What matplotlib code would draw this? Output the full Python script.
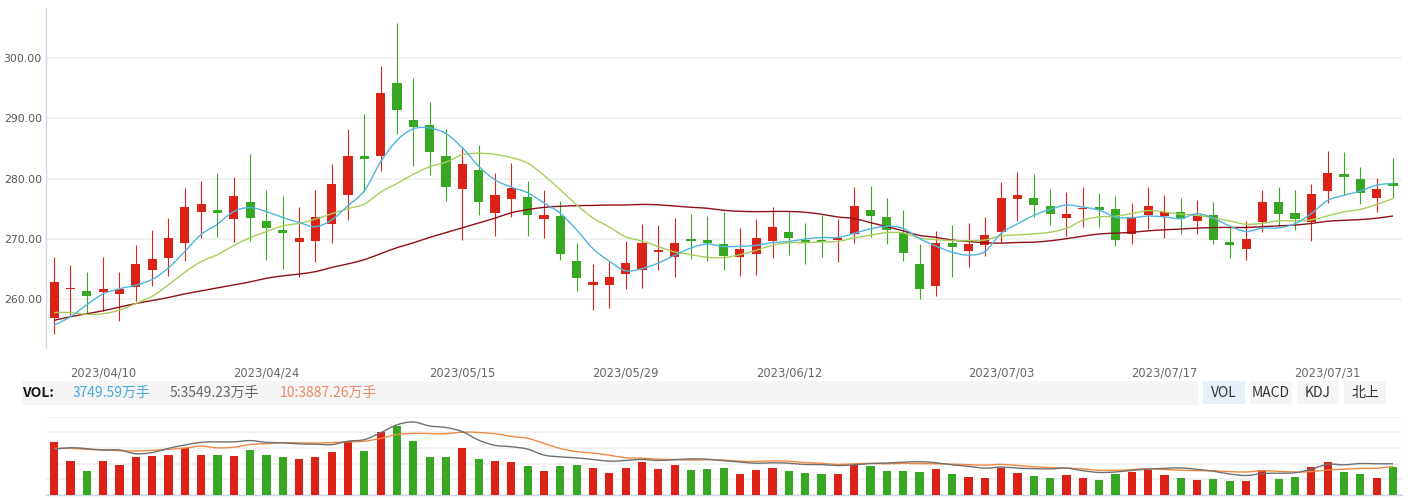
import numpy as np
import pandas as pd
import matplotlib
matplotlib.use("Agg")
import matplotlib.pyplot as plt
from matplotlib.patches import Rectangle, PathPatch
from matplotlib.path import Path

# ---------------- data ----------------
holidays = ["2023-04-05", "2023-05-01", "2023-05-02", "2023-05-03", "2023-06-22", "2023-06-23"]
dates = pd.bdate_range("2023-04-04", "2023-08-04", freq="C", holidays=holidays)
label_dates = ["2023/04/10", "2023/04/24", "2023/05/15", "2023/05/29",
               "2023/06/12", "2023/07/03", "2023/07/17", "2023/07/31"]

opens = [256.83, 261.54, 261.26, 261.15, 260.82, 261.99, 264.76, 266.81, 269.26, 274.47,
         274.69, 273.31, 276.08, 272.92, 271.42, 269.48, 269.64, 272.48, 277.30, 283.74,
         283.80, 295.89, 289.73, 288.90, 283.74, 278.30, 281.41, 274.31, 276.64, 276.91,
         273.31, 273.75, 266.26, 262.32, 262.32, 264.15, 264.82, 267.81, 266.98, 269.92,
         269.76, 269.09, 266.98, 267.48, 269.64, 271.09, 269.76, 269.76, 269.76, 270.81,
         274.75, 273.58, 270.98, 265.76, 262.15, 269.26, 267.98, 268.98, 271.14, 276.64,
         276.75, 275.42, 273.47, 274.97, 275.25, 274.92, 270.81, 273.92, 273.81, 274.42,
         272.97, 273.92, 269.37, 268.31, 272.81, 276.08, 274.25, 272.81, 277.97, 280.74,
         279.91, 276.80, 279.25]
closes = [262.76, 261.82, 260.49, 261.60, 261.60, 265.76, 266.59, 270.09, 275.25, 275.75,
          274.31, 277.08, 273.47, 271.81, 270.98, 270.09, 273.58, 279.08, 283.74, 283.30,
          294.23, 291.45, 288.62, 284.46, 278.63, 282.41, 276.14, 277.25, 278.41, 273.97,
          273.92, 267.48, 263.48, 262.76, 263.60, 265.93, 269.26, 268.09, 269.26, 269.64,
          269.26, 267.15, 268.26, 270.09, 271.92, 270.14, 269.31, 269.48, 270.09, 275.42,
          273.81, 271.48, 267.65, 261.65, 269.26, 268.65, 269.09, 270.59, 276.75, 277.25,
          275.64, 274.14, 274.08, 275.14, 274.75, 269.81, 273.64, 275.42, 274.47, 273.31,
          273.92, 269.81, 268.98, 269.92, 276.08, 274.14, 273.31, 277.41, 280.91, 280.30,
          277.64, 278.25, 278.80]
highs = [266.93, 265.59, 264.37, 266.93, 264.37, 268.92, 271.42, 273.42, 278.41, 279.58,
         280.91, 280.24, 284.07, 278.08, 277.08, 275.25, 278.08, 282.41, 288.24, 290.73,
         298.72, 305.88, 296.73, 292.73, 288.24, 285.29, 285.57, 280.91, 282.58, 279.58,
         278.08, 276.25, 269.26, 265.76, 266.32, 269.59, 272.42, 272.25, 273.42, 274.08,
         273.75, 274.42, 271.75, 273.25, 275.25, 274.58, 272.59, 273.92, 273.25, 278.58,
         278.75, 276.75, 274.75, 269.15, 271.25, 272.25, 272.59, 273.58, 279.41, 281.08,
         280.74, 278.25, 277.75, 278.58, 277.58, 277.08, 275.92, 278.58, 277.25, 276.75,
         276.42, 276.08, 272.14, 272.92, 278.08, 278.58, 278.08, 279.08, 284.57, 284.41,
         281.91, 280.08, 283.41]
lows = [254.16, 257.27, 257.44, 257.94, 256.33, 259.60, 262.15, 263.82, 266.32, 270.14,
        270.31, 269.48, 269.64, 266.48, 264.98, 263.65, 266.15, 269.31, 273.14, 277.80,
        281.30, 287.46, 282.13, 280.63, 276.30, 269.81, 273.97, 270.48, 273.64, 270.48,
        270.14, 266.48, 261.32, 258.16, 258.49, 261.65, 261.82, 264.82, 263.65, 266.65,
        266.32, 264.82, 263.82, 263.98, 266.81, 267.31, 265.82, 266.98, 266.15, 269.31,
        270.31, 269.15, 266.32, 259.99, 260.49, 263.65, 265.32, 267.15, 269.42, 272.97,
        273.64, 272.31, 270.48, 271.98, 271.98, 268.81, 269.15, 271.59, 270.14, 270.81,
        270.81, 269.15, 266.81, 266.48, 271.14, 272.14, 271.48, 269.64, 275.97, 277.25,
        275.75, 274.47, 276.75]

# volume, 万手
volumes = [7141, 4597, 3213, 4597, 4017, 5132, 5266, 5400, 6337, 5400,
           5400, 5266, 6070, 5400, 5132, 4865, 5132, 5802, 7230, 5936,
           8480, 9283, 7275, 5132, 5132, 6337, 4820, 4552, 4418, 3883,
           3213, 3883, 4017, 3615, 2946, 3615, 4418, 3481, 4017, 3347,
           3481, 3615, 2812, 3347, 3615, 3213, 2946, 2812, 2812, 4017,
           3883, 3213, 3213, 3079, 3481, 2812, 2410, 2276, 3615, 2946,
           2544, 2276, 2678, 2276, 2008, 2812, 3079, 3347, 2678, 2276,
           2008, 2142, 1874, 1874, 3347, 2142, 2410, 3749, 4418, 3079,
           2812, 2276, 3750]

# moving-average values before enough history is visible
ma5_head = [255.6, 257.0, 259.0, 260.8]
ma10_head = [257.7, 257.7, 257.4, 257.5, 258.1, 259.2, 260.4, 262.3, 264.4]
ma30_head = [256.4, 257.0, 257.5, 258.0, 258.6, 259.2, 259.7, 260.2, 260.8, 261.3,
             261.8, 262.3, 262.8, 263.4, 263.8, 264.1, 264.5, 265.2, 265.8, 266.5,
             267.5, 268.5, 269.3, 270.2, 271.0, 271.8, 272.6, 273.4, 274.3]
vol_ma5_head = [4777, 4951, 4847, 4707]
vol_ma10_head = [4882, 4882, 4777, 4707, 4638, 4603, 4672, 4777, 4917]

header_vol = "3749.59万手"
header_ma5 = "5:3549.23万手"
header_ma10 = "10:3887.26万手"
buttons = ["VOL", "MACD", "KDJ", "北上"]

# ---------------- helpers ----------------
def moving_avg(vals, n, head):
    s = pd.Series(vals, dtype=float).rolling(n).mean().to_numpy()
    s[:len(head)] = head
    return s

def smooth_line(ax, x, y, **kw):
    x = np.asarray(x, float)
    y = np.asarray(y, float)
    n = len(x)
    verts = [(x[0], y[0])]
    codes = [Path.MOVETO]
    for i in range(n - 1):
        p0 = np.array([x[max(i - 1, 0)], y[max(i - 1, 0)]])
        p1 = np.array([x[i], y[i]])
        p2 = np.array([x[i + 1], y[i + 1]])
        p3 = np.array([x[min(i + 2, n - 1)], y[min(i + 2, n - 1)]])
        c1 = p1 + (p2 - p0) / 6.0
        c2 = p2 - (p3 - p1) / 6.0
        verts += [tuple(c1), tuple(c2), tuple(p2)]
        codes += [Path.CURVE4] * 3
    ax.add_patch(PathPatch(Path(verts, codes), fill=False, **kw))

# ---------------- figure ----------------
W, H = 1414, 500
fig = plt.figure(figsize=(W / 100, H / 100), dpi=100)
fig.patch.set_facecolor("white")

RED = "#da2219"
GREEN = "#38a824"

o = np.array(opens); c = np.array(closes); h = np.array(highs); l = np.array(lows)
x = np.arange(len(dates))
up = c >= o
colors = np.where(up, RED, GREEN)

x0 = 46 / W
wid = (1402 - 46) / W

# price panel
ax = fig.add_axes([x0, 1 - 348 / H, wid, 340 / H])
ax.set_xlim(-0.5, 82.55)
ax.set_ylim(251.80, 308.37)
for s in ["top", "right", "bottom"]:
    ax.spines[s].set_visible(False)
ax.spines["left"].set_color("#c7d7ee")
ax.spines["left"].set_linewidth(0.9)
ax.set_yticks([260, 270, 280, 290, 300])
ax.set_yticklabels([f"{v:.2f}" for v in [260, 270, 280, 290, 300]])
ax.tick_params(axis="y", length=0, pad=3, labelsize=7.8, labelcolor="#555555")
ax.grid(axis="y", color="#f1f1f1", linewidth=1.3)
ax.set_axisbelow(True)

date_str = [d.strftime("%Y/%m/%d") for d in dates]
tick_pos = [date_str.index(d) for d in label_dates]
ax.set_xticks(tick_pos)
ax.set_xticklabels(label_dates)
ax.tick_params(axis="x", length=0, pad=13, labelsize=8.3, labelcolor="#666666")

ax.vlines(x, l, h, colors=colors, linewidth=0.8, zorder=2)
body_bottom = np.minimum(o, c)
body_h = np.maximum(np.abs(c - o), 0.18)
ax.bar(x, body_h, bottom=body_bottom, width=0.56, color=colors, linewidth=0, zorder=3)

ma5 = moving_avg(closes, 5, ma5_head)
ma10 = moving_avg(closes, 10, ma10_head)
ma30 = moving_avg(closes, 30, ma30_head)
smooth_line(ax, x, ma30, edgecolor="#8e1018", linewidth=1.0, zorder=4)
smooth_line(ax, x, ma10, edgecolor="#a6cf5a", linewidth=1.0, zorder=4)
smooth_line(ax, x, ma5, edgecolor="#4db6dc", linewidth=1.0, zorder=4)

# volume panel
axv = fig.add_axes([x0, 1 - 495 / H, wid, (495 - 416.7) / H])
axv.set_xlim(-0.5, 82.55)
vtop = 10488
axv.set_ylim(0, vtop)
for s in ["top", "right", "left"]:
    axv.spines[s].set_visible(False)
axv.spines["bottom"].set_color("#ccd4e6")
axv.spines["bottom"].set_linewidth(1.0)
axv.set_yticks(np.linspace(0, vtop, 6))
axv.set_yticklabels([])
axv.set_xticks([])
axv.tick_params(length=0)
axv.grid(axis="y", color="#f1f1f1", linewidth=1.3)
axv.set_axisbelow(True)
axv.bar(x, volumes, width=0.5, color=colors, linewidth=0, zorder=3)

axl = axv.twinx()
axl.set_ylim(0, vtop / 1.28)
axl.set_xlim(-0.5, 82.55)
axl.axis("off")
vma5 = moving_avg(volumes, 5, vol_ma5_head)
vma10 = moving_avg(volumes, 10, vol_ma10_head)
smooth_line(axl, x, vma10, edgecolor="#ef8a44", linewidth=1.0, zorder=4)
smooth_line(axl, x, vma5, edgecolor="#707070", linewidth=1.0, zorder=4)

# header band
fam = ["Noto Sans CJK SC", "DejaVu Sans"]
fig.add_artist(Rectangle((22 / W, 1 - 405 / H), (1198 - 22) / W, 24 / H,
                         transform=fig.transFigure, facecolor="#f5f5f5", edgecolor="none"))
yc = 1 - 393 / H
fig.text(22 / W, yc, "VOL:", family=fam, fontsize=10, fontweight="bold",
         color="#1a1a1a", va="center", ha="left")
fig.text(72.5 / W, yc, header_vol, family=fam, fontsize=10, color="#49a9d8",
         va="center", ha="left")
fig.text(170 / W, yc, header_ma5, family=fam, fontsize=10, color="#666666",
         va="center", ha="left")
fig.text(280 / W, yc, header_ma10, family=fam, fontsize=10, color="#ec8a67",
         va="center", ha="left")

btn_left = [1203, 1250, 1297, 1344]
for i, b in enumerate(buttons):
    fc = "#e6eef8" if i == 0 else "#f5f5f5"
    fig.add_artist(Rectangle((btn_left[i] / W, 1 - 404 / H), 42 / W, 23 / H,
                             transform=fig.transFigure, facecolor=fc, edgecolor="none"))
    fig.text((btn_left[i] + 21) / W, yc, b, family=fam, fontsize=10, color="#333333",
             va="center", ha="center")

fig.savefig("out.png", dpi=100)
